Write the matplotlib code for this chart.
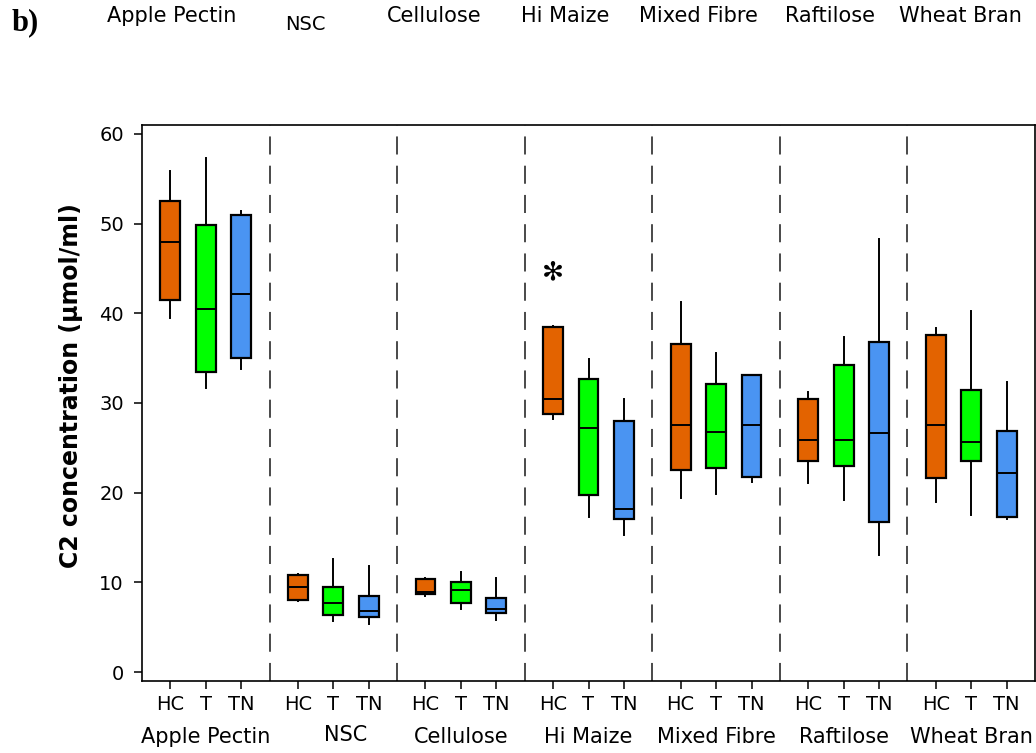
import matplotlib
matplotlib.use("Agg")
import matplotlib.pyplot as plt

# Fibre substrates and inoculum groups
fibres = ["Apple Pectin", "NSC", "Cellulose", "Hi Maize", "Mixed Fibre", "Raftilose", "Wheat Bran"]
groups = ["HC", "T", "TN"]
group_colors = ["#E36300", "#00FF00", "#4A94F2"]

# Box statistics per fibre, ordered HC, T, TN  (µmol/ml)
whisker_low = [
    [39.5, 31.7, 33.8],
    [7.9, 5.7, 5.4],
    [8.5, 7.05, 5.8],
    [28.2, 17.3, 15.3],
    [19.4, 19.8, 21.2],
    [21.1, 19.2, 13.1],
    [19.0, 17.5, 17.1],
]
q1 = [
    [41.5, 33.5, 35.0],
    [8.0, 6.4, 6.1],
    [8.65, 7.65, 6.6],
    [28.8, 19.75, 17.1],
    [22.5, 22.7, 21.8],
    [23.5, 23.0, 16.7],
    [21.6, 23.5, 17.3],
]
median = [
    [47.9, 40.5, 42.2],
    [9.5, 7.7, 6.8],
    [8.9, 9.1, 7.05],
    [30.4, 27.2, 18.2],
    [27.6, 26.8, 27.6],
    [25.9, 25.9, 26.6],
    [27.6, 25.7, 22.2],
]
q3 = [
    [52.5, 49.8, 51.0],
    [10.8, 9.5, 8.5],
    [10.35, 10.0, 8.3],
    [38.5, 32.7, 28.0],
    [36.6, 32.1, 33.1],
    [30.4, 34.2, 36.8],
    [37.6, 31.5, 26.9],
]
whisker_high = [
    [55.9, 57.3, 51.4],
    [10.9, 12.6, 11.8],
    [10.5, 11.2, 10.5],
    [38.6, 34.9, 30.4],
    [41.3, 35.6, 33.1],
    [31.2, 37.4, 48.3],
    [38.4, 40.3, 32.3],
]

# Significance marker: fibre index, group index, y value
star_fibre, star_group, star_value = 3, 0, 44.6

W, H = 1036, 753
fig = plt.figure(figsize=(W / 100, H / 100), dpi=100)
ax = fig.add_axes([142 / W, 1 - 681 / H, (1035 - 142) / W, (681 - 125) / H])

plt.rcParams["font.family"] = "DejaVu Sans"

group_span = 3.6
offset = 0.8

stats, positions, colors, labels = [], [], [], []
for f in range(len(fibres)):
    for g in range(len(groups)):
        stats.append(dict(whislo=whisker_low[f][g], q1=q1[f][g], med=median[f][g],
                          q3=q3[f][g], whishi=whisker_high[f][g], fliers=[]))
        positions.append(f * group_span + offset + g)
        colors.append(group_colors[g])
        labels.append(groups[g])

bp = ax.bxp(stats, positions=positions, widths=0.56, patch_artist=True,
            showcaps=False, showfliers=False,
            boxprops=dict(linewidth=1.6, edgecolor="black"),
            whiskerprops=dict(linewidth=1.4, color="black"),
            medianprops=dict(linewidth=1.4, color="black"))
for patch, c in zip(bp["boxes"], colors):
    patch.set_facecolor(c)

# Dashed separators between fibres
for k in range(1, len(fibres)):
    ax.axvline(k * group_span, color="#3a3a3a", linewidth=1.3,
               dashes=(10, 6.2), zorder=0)

ax.set_xlim(0, len(fibres) * group_span)
ax.set_ylim(-1, 61)
ax.set_yticks([0, 10, 20, 30, 40, 50, 60])
ax.set_xticks(positions)
ax.set_xticklabels(labels)
ax.tick_params(axis="y", length=6, width=1.1, pad=7, labelsize=14)
ax.tick_params(axis="x", length=6, width=1.1, pad=4, labelsize=14)
for s in ax.spines.values():
    s.set_linewidth(1.2)

ax.set_ylabel("C2 concentration (µmol/ml)", fontsize=17, fontweight="bold")
ax.yaxis.set_label_coords(-0.066, 0.532)

# Significance asterisk
ax.text(star_fibre * group_span + offset + star_group, star_value, "\u273b",
        ha="center", va="center", fontsize=19, color="black")

# Fibre names below the group tick labels
for f, name in enumerate(fibres):
    xc = f * group_span + group_span / 2
    dy = 0
    if name == "NSC":
        xc += 0.35
        dy = 2
    ax.annotate(name, xy=(xc, 0), xycoords=("data", "axes fraction"),
                xytext=(0, -56 + dy), textcoords="offset pixels",
                ha="center", va="center", fontsize=15)

# Fibre names along the top of the figure
top_x = [172, 305, 434, 565, 698, 830, 960]
for name, xp in zip(fibres, top_x):
    yp = 25 if name == "NSC" else 16
    fs = 14 if name == "NSC" else 15
    fig.text(xp / W, 1 - yp / H, name, ha="center", va="center", fontsize=fs)

fig.text(12 / W, 1 - 23 / H, "b)", ha="left", va="center", fontsize=22,
         fontweight="bold", family="Liberation Serif")

fig.savefig("out.png", dpi=100)
